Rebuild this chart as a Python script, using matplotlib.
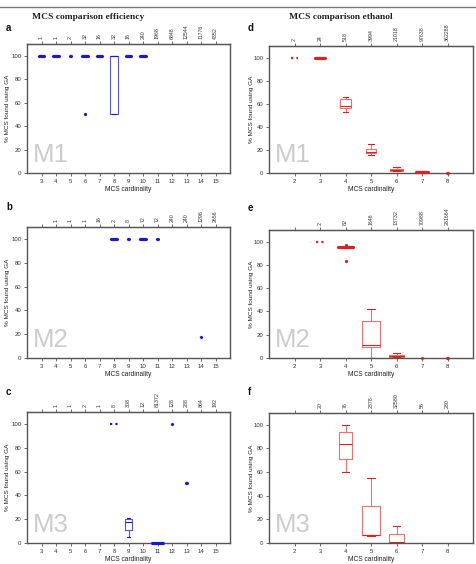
import matplotlib
matplotlib.use('Agg')
import matplotlib.pyplot as plt
from matplotlib.lines import Line2D
import numpy as np

plt.rcParams['font.family'] = ['Liberation Sans', 'DejaVu Sans']

# ---- efficiency dataset (blue), MCS cardinality 3..15 ----
eff_card = [3, 4, 5, 6, 7, 8, 9, 10, 11, 12, 13, 14, 15]
eff_m1_counts = ['1', '1', '2', '32', '16', '32', '16', '240', '1968', '6848', '12544', '11776', '4352']
eff_m2_counts = ['', '1', '1', '1', '16', '2', '8', '72', '72', '240', '240', '1296', '2656']
eff_m3_counts = ['', '1', '1', '2', '1', '8', '308', '12', '81372', '128', '288', '864', '192']

eff_m1_pos = [3, 4, 5, 6, 7, 8, 9, 10]
eff_m1_vals = [[100] * 6, [100] * 6, [100], [50] + [100] * 8, [100] * 6,
               [50, 50, 100, 100, 100], [100] * 6, [100] * 6]
eff_m2_pos = [8, 9, 10, 11, 14]
eff_m2_vals = [[100] * 6, [100], [100] * 6, [100], [18]]
eff_m3_pos = [8, 9, 11, 12, 13]
eff_m3_vals = [[100] * 3, [5, 10, 12, 18, 20, 21, 21], [0] * 6, [100], [50]]

# ---- ethanol dataset (red), MCS cardinality 2..8 ----
eth_card = [2, 3, 4, 5, 6, 7, 8]
eth_m1_counts = ['2', '24', '518', '3994', '21018', '97638', '362288']
eth_m2_counts = ['', '2', '82', '1646', '13732', '70988', '281664']
eth_m3_counts = ['', '20', '76', '2378', '32580', '56', '280']

eth_m1_pos = [2, 3, 4, 5, 6, 7, 8]
eth_m1_vals = [[100] * 2, [100] * 6, [53, 56, 57, 58, 64, 65, 66],
               [16, 17, 17, 18, 20, 21, 25], [1.5, 2, 2.5, 3, 4, 5],
               [0.5] * 4, [0]]
eth_m2_pos = [3, 4, 5, 6, 7, 8]
eth_m2_vals = [[100] * 3, [83, 95, 95, 95, 95, 95, 95, 97],
               [0, 9, 10, 11, 12, 31, 33, 42], [0.5, 1, 1.5, 2, 3, 3, 4],
               [0], [0]]
eth_m3_pos = [4, 5, 6]
eth_m3_vals = [[60, 70, 72, 84, 93, 95, 100], [6, 6.5, 7, 7, 28, 34, 55],
               [0, 0, 0.5, 0.5, 7, 8, 14]]

# box widths and dotted flags (style only)
eff_m1_w = [0.52, 0.52, 0.15, 0.52, 0.52, 0.52, 0.52, 0.52]
eff_m2_w = [0.52, 0.15, 0.58, 0.15, 0.15]
eff_m3_w = [0.6, 0.55, 0.9, 0.15, 0.15]
eth_m1_w = [0.25, 0.5, 0.45, 0.4, 0.52, 0.55, 0.08]
eth_m2_w = [0.35, 0.7, 0.68, 0.6, 0.08, 0.08]
eth_m3_w = [0.54, 0.68, 0.55]
eff_m1_dot = [False] * 8
eff_m2_dot = [False] * 5
eff_m3_dot = [True, False, False, False, False]
eth_m1_dot = [True] + [False] * 6
eth_m2_dot = [True] + [False] * 5
eth_m3_dot = [False] * 3

BLUE, BLUE_D = '#5555dd', '#1a1ac0'
RED, RED_D = '#f07070', '#dd2020'
FRAME = '#555555'

W, H = 476, 564
fig = plt.figure(figsize=(W / 100, H / 100), dpi=100)


def draw_panel(rect, card, counts, pos, vals, widths, dotted, color, dark,
               xlim, tag, ylab_x):
    ax = fig.add_axes(rect)
    bp = ax.boxplot(vals, positions=pos, widths=widths, whis=1.5,
                    manage_ticks=False,
                    capwidths=[w * 0.5 for w in widths],
                    boxprops=dict(color=color, lw=0.8),
                    whiskerprops=dict(color=color, lw=0.8),
                    capprops=dict(color=dark, lw=0.8),
                    medianprops=dict(color=dark, lw=0.8),
                    flierprops=dict(marker='o', ms=1.3, mfc=dark, mec=dark))
    for i, v in enumerate(vals):
        q1, q3 = np.percentile(v, [25, 75])
        if q1 == q3:
            bp['medians'][i].set_linewidth(2.3)
            bp['medians'][i].set_clip_on(False)
            bp['medians'][i].set_zorder(3)
            bp['boxes'][i].set_color(dark)
        if dotted[i]:
            bp['boxes'][i].set_visible(False)
            for art in bp['whiskers'][2 * i:2 * i + 2] + bp['caps'][2 * i:2 * i + 2]:
                art.set_visible(False)
            bp['medians'][i].set_linestyle((0, (1, 1.4)))
            bp['medians'][i].set_linewidth(1.6)

    ax.set_xlim(*xlim)
    ax.set_ylim(0, 110)
    ax.set_xticks(card)
    ax.set_yticks([0, 20, 40, 60, 80, 100])
    ax.tick_params(axis='both', direction='out', length=2, width=0.6,
                   labelsize=4.3, pad=2, colors=FRAME, labelcolor='#333333')
    for s in ax.spines.values():
        s.set_color(FRAME)
        s.set_linewidth(1)
    ax.set_ylabel('% MCS found using GA', fontsize=4.6, color='#222222')
    ax.yaxis.set_label_coords(ylab_x, 0.5)
    ax.set_xlabel('MCS cardinality', fontsize=4.8, color='#222222')
    ax.xaxis.set_label_coords(0.5, -0.1)

    sec = ax.secondary_xaxis('top')
    sec.set_xticks(card)
    sec.set_xticklabels(counts, rotation=90, fontsize=3.8, color='#333333')
    sec.tick_params(direction='out', length=2, width=0.6, pad=1.5, colors=FRAME,
                    labelcolor='#333333')
    sec.spines['top'].set_color(FRAME)

    ax.text(0.03, 0.045, tag, transform=ax.transAxes, fontsize=18.5,
            color='#cccccc', ha='left', va='bottom', zorder=0)
    return ax


def rect(left, top, right, bottom):
    return [left / W, 1 - bottom / H, (right - left) / W, (bottom - top) / H]


draw_panel(rect(27, 44, 230, 173), eff_card, eff_m1_counts, eff_m1_pos,
           eff_m1_vals, eff_m1_w, eff_m1_dot, BLUE, BLUE_D, (2, 16), 'M1', -0.085)
draw_panel(rect(27, 227, 230, 358), eff_card, eff_m2_counts, eff_m2_pos,
           eff_m2_vals, eff_m2_w, eff_m2_dot, BLUE, BLUE_D, (2, 16), 'M2', -0.085)
draw_panel(rect(27, 412, 230, 543), eff_card, eff_m3_counts, eff_m3_pos,
           eff_m3_vals, eff_m3_w, eff_m3_dot, BLUE, BLUE_D, (2, 16), 'M3', -0.085)
draw_panel(rect(269, 46, 473, 173), eth_card, eth_m1_counts, eth_m1_pos,
           eth_m1_vals, eth_m1_w, eth_m1_dot, RED, RED_D, (1, 9), 'M1', -0.072)
draw_panel(rect(269, 230, 473, 358), eth_card, eth_m2_counts, eth_m2_pos,
           eth_m2_vals, eth_m2_w, eth_m2_dot, RED, RED_D, (1, 9), 'M2', -0.072)
draw_panel(rect(269, 413, 473, 543), eth_card, eth_m3_counts, eth_m3_pos,
           eth_m3_vals, eth_m3_w, eth_m3_dot, RED, RED_D, (1, 9), 'M3', -0.072)

# titles and panel letters
fig.text(88 / W, 1 - 17 / H, 'MCS comparison efficiency', family='Liberation Serif',
         fontweight='bold', fontsize=6.8, ha='center', va='center', color='#222222')
fig.text(341 / W, 1 - 17 / H, 'MCS comparison ethanol', family='Liberation Serif',
         fontweight='bold', fontsize=6.8, ha='center', va='center', color='#222222')
for letter, x, y in [('a', 6, 28), ('b', 6, 207), ('c', 6, 392),
                     ('d', 248, 28), ('e', 248, 208), ('f', 248, 392)]:
    fig.text(x / W, 1 - y / H, letter, fontweight='bold', fontsize=7,
             ha='left', va='center', color='#111111')

fig.add_artist(Line2D([0, 1], [1 - 7 / H, 1 - 7 / H], transform=fig.transFigure,
                      color='#777777', lw=1))

fig.savefig('out.png', dpi=100)
